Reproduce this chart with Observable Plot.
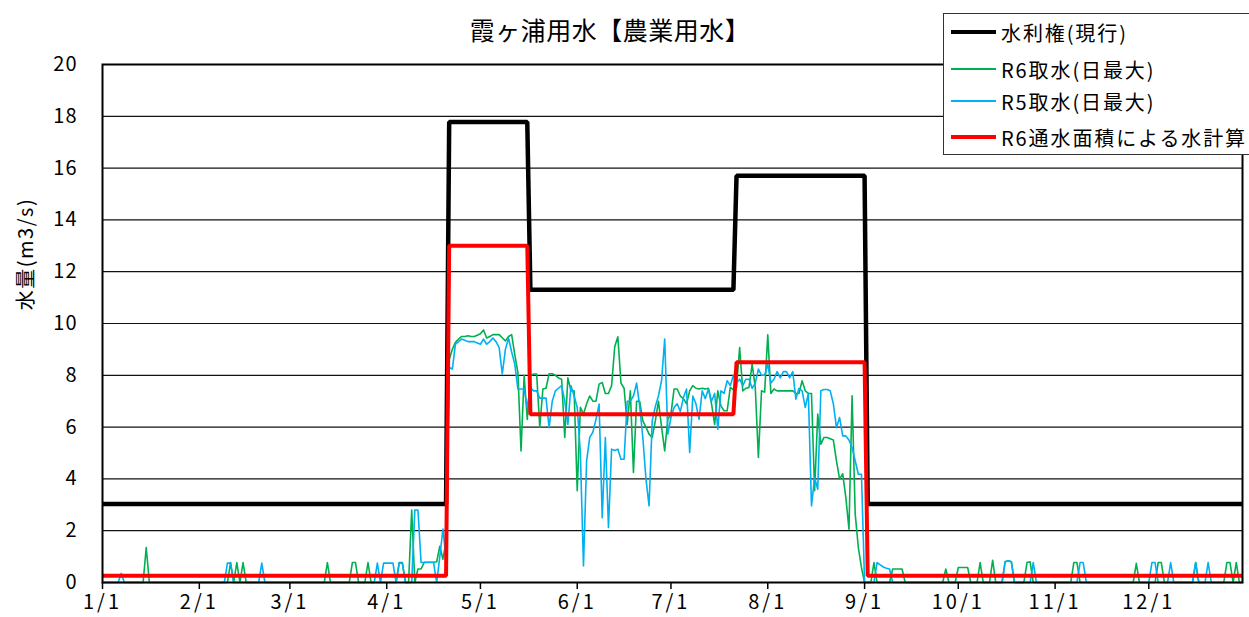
<!DOCTYPE html>
<html><head><meta charset="utf-8">
<script src="https://cdn.jsdelivr.net/npm/d3@7"></script>
<script src="https://cdn.jsdelivr.net/npm/@observablehq/plot@0.6"></script>
<style>
html,body{margin:0;padding:0;background:#fff;overflow:hidden;}
#wrap{position:relative;width:1249px;height:617px;font-family:"Noto Sans CJK JP","Noto Sans",sans-serif;color:#000;}
#title{position:absolute;left:410px;width:400px;top:11px;text-align:center;font-size:25px;letter-spacing:0.5px;line-height:36px;white-space:nowrap;}
#ylab{position:absolute;left:24px;top:254px;transform:translate(-50%,-50%) rotate(-90deg);font-size:20px;letter-spacing:1.5px;white-space:nowrap;}
#legend{position:absolute;left:943px;top:13px;width:360px;height:140px;border:1.5px solid #333;background:#fff;}
.row{position:absolute;left:7px;height:26px;display:flex;align-items:center;white-space:nowrap;font-size:20px;letter-spacing:1.9px;}
.sw{width:45px;margin-right:5px;}
g[aria-label="x-axis tick label"] text{letter-spacing:3px;}
g[aria-label="y-axis tick label"] text{letter-spacing:1px;}
</style></head>
<body>
<div id="wrap">
  <div id="chart"></div>
  <div id="title"></div>
  <div id="ylab"></div>
  <div id="legend"></div>
</div>
<script>
// ---- text ----
const titleText = "霞ヶ浦用水【農業用水】";
const yLabel = "水量(m3/s)";
const seriesNames = ["水利権(現行)", "R6取水(日最大)", "R5取水(日最大)", "R6通水面積による水計算"];
const seriesColors = ["#000000", "#00B050", "#00B0F0", "#FF0000"];
const seriesWidths = [4.5, 1.6, 1.6, 4];
const monthLabels = ["1/1","2/1","3/1","4/1","5/1","6/1","7/1","8/1","9/1","10/1","11/1","12/1"];
const yTicks = [0,2,4,6,8,10,12,14,16,18,20];

// ---- step lines (day index from 1/1, value) ----
const rightsDays = [0,110,111,136,137,202,203,244,245,365];
const rightsVals = [3.03,3.03,17.78,17.78,11.3,11.3,15.7,15.7,3.03,3.03];
const calcDays = [0,110,111,136,137,202,203,244,245,365];
const calcVals = [0.26,0.26,13.0,13.0,6.5,6.5,8.5,8.5,0.26,0.26];

// ---- R6 daily intake (green) ----
const r6Start = 97;
const r6Season = [0,0,2.8,0,0.52,0.52,0.78,0.78,0.78,0.78,0.8,1.4,0.9,1.6,
 8.6,9.0,9.27,9.4,9.5,9.5,9.53,9.5,9.5,9.55,9.6,9.75,9.44,9.5,9.57,9.57,9.57,9.45,9.33,9.5,9.57,
 8.8,8.11,5.08,8.0,6.3,7.98,8.05,8.05,6.0,7.47,7.5,8.06,8.06,8.0,7.9,7.85,5.6,7.9,7.4,7.4,3.54,
 6.76,6.5,6.9,7.2,7.0,7.0,7.66,7.72,7.3,7.3,7.6,9.1,9.49,7.7,7.5,6.1,7.4,4.25,7.0,7.0,6.24,6.0,
 5.73,5.6,6.24,7.0,6.0,5.08,6.3,6.5,7.47,7.47,7.2,7.1,6.9,7.4,7.6,7.5,7.47,7.5,7.47,7.5,6.9,6.1,
 7.4,6.82,6.63,6.63,7.53,7.45,7.53,9.07,7.4,7.5,7.53,8.43,7.53,4.83,7.4,7.35,9.56,7.3,7.47,7.4,
 7.4,7.4,7.4,7.4,7.4,7.3,7.3,7.79,7.4,7.3,7.3,3.54,6.5,5.34,5.6,5.6,5.55,5.5,4.7,3.99,4.2,3.28,
 2.06,7.21,2.64,1.35,0.58,0,0,0,0.77,0,0,0,0,0,0.52,0.52,0.52,0.52,0];
const r6OtherDays = [14,41,43,45,72,80,81,85,95,96,270,274,275,276,277,281,285,289,290,291,296,297,311,312,331,338,339,350,360,361,363];
const r6OtherVals = [1.35,0.77,0.77,0.77,0.77,0.77,0.77,0.77,0.77,0.77,0.52,0.58,0.58,0.58,0.58,0.77,0.86,0.8,0.84,0.8,0.77,0.8,0.77,0.77,0.74,0.77,0.77,0.77,0.77,0.77,0.77];

// ---- R5 daily intake (blue) ----
const r5Start = 97;
const r5Season = [0,0,0,2.8,2.8,0.77,0.77,0.77,0.77,0.77,0,1.0,2.06,0.9,
 8.3,8.24,9.2,9.3,9.4,9.35,9.3,9.3,9.3,9.25,9.2,9.4,9.2,9.3,9.44,9.3,9.07,8.05,9.0,9.44,8.9,
 8.43,7.47,7.47,7.47,6.76,7.53,7.4,7.4,7.12,7.12,7.12,5.98,7.0,7.4,7.5,7.6,7.0,6.1,7.6,7.2,6.76,
 5.0,0.64,4.7,5.6,5.8,6.3,6.89,2.5,5.6,2.12,5.15,5.1,5.15,4.76,4.76,7.0,7.0,7.2,7.7,6.8,5.6,4.0,
 2.96,6.24,6.8,7.2,7.8,9.4,5.73,6.37,6.76,6.9,6.6,7.14,7.47,5.02,7.2,6.9,6.3,7.4,7.1,7.47,7.0,7.3,
 5.92,7.4,7.3,7.79,7.6,8.0,7.7,7.85,7.6,7.85,7.85,7.5,7.7,8.24,8.0,8.0,8.43,7.7,7.85,8.14,7.9,
 8.14,8.14,7.9,8.14,7.08,7.5,7.4,6.76,7.3,2.96,4.05,3.6,7.4,7.45,7.45,7.4,6.9,5.98,6.37,5.66,5.66,
 5.5,5.21,4.7,4.18,4.18,0,0,0,0,0.77,0.68,0.6,0.55,0.52,0];
const r5OtherDays = [6,40,41,51,88,90,91,92,93,95,96,289,290,291,298,313,314,336,337,342,350,354];
const r5OtherVals = [0.35,0.75,0.75,0.75,0.75,0.75,0.75,0.75,0.75,0.75,0.75,0.8,0.84,0.8,0.77,0.77,0.77,0.77,0.77,0.77,0.77,0.77];

// ---- build tables ----
const nDays = 366;
const dayDate = i => new Date(Date.UTC(2024, 0, 1 + i));
function daily(start, season, oDays, oVals) {
  const v = new Array(nDays).fill(0);
  oDays.forEach((d, k) => { v[d] = oVals[k]; });
  season.forEach((s, k) => { v[start + k] = s; });
  return v.map((y, i) => ({date: dayDate(i), v: y}));
}
const r6 = daily(r6Start, r6Season, r6OtherDays, r6OtherVals);
const r5 = daily(r5Start, r5Season, r5OtherDays, r5OtherVals);
const rights = rightsDays.map((d, k) => ({date: dayDate(d), v: rightsVals[k]}));
const calc = calcDays.map((d, k) => ({date: dayDate(d), v: calcVals[k]}));
const monthTicks = monthLabels.map((_, i) => new Date(Date.UTC(2024, i, 1)));

const chart = Plot.plot({
  width: 1249, height: 617,
  marginTop: 64, marginLeft: 102, marginRight: 7, marginBottom: 35,
  style: {fontFamily: '"Noto Sans CJK JP","Noto Sans",sans-serif', fontSize: "20px", color: "#000", background: "#fff"},
  x: {type: "utc", domain: [dayDate(0), dayDate(365)]},
  y: {domain: [0, 20]},
  marks: [
    Plot.ruleY(yTicks.slice(1, -1), {stroke: "#111", strokeWidth: 1.2}),
    Plot.line(rights, {x: "date", y: "v", stroke: seriesColors[0], strokeWidth: seriesWidths[0], strokeLinejoin: "miter", strokeLinecap: "butt"}),
    Plot.line(r6, {x: "date", y: "v", stroke: seriesColors[1], strokeWidth: seriesWidths[1]}),
    Plot.line(r5, {x: "date", y: "v", stroke: seriesColors[2], strokeWidth: seriesWidths[2]}),
    Plot.line(calc, {x: "date", y: "v", stroke: seriesColors[3], strokeWidth: seriesWidths[3], strokeLinejoin: "miter", strokeLinecap: "butt"}),
    Plot.frame({stroke: "#000", strokeWidth: 2}),
    Plot.axisY({ticks: yTicks, tickSize: 0, tickPadding: 25, fontSize: 20, label: null}),
    Plot.axisX({ticks: monthTicks, tickFormat: d => monthLabels[d.getUTCMonth()], tickSize: 7, tickPadding: 5, fontSize: 20, label: null, stroke: "#000", strokeWidth: 1.5})
  ]
});
document.getElementById("chart").appendChild(chart);

document.getElementById("title").textContent = titleText;
document.getElementById("ylab").textContent = yLabel;
const leg = document.getElementById("legend");
const rowTops = [5, 42, 74, 110];
seriesNames.forEach((name, i) => {
  const row = document.createElement("div");
  row.className = "row";
  row.style.top = rowTops[i] + "px";
  const sw = document.createElement("div");
  sw.className = "sw";
  sw.style.height = seriesWidths[i] + "px";
  sw.style.background = seriesColors[i];
  const t = document.createElement("span");
  t.textContent = name;
  row.appendChild(sw); row.appendChild(t);
  leg.appendChild(row);
});
</script>
</body></html>
